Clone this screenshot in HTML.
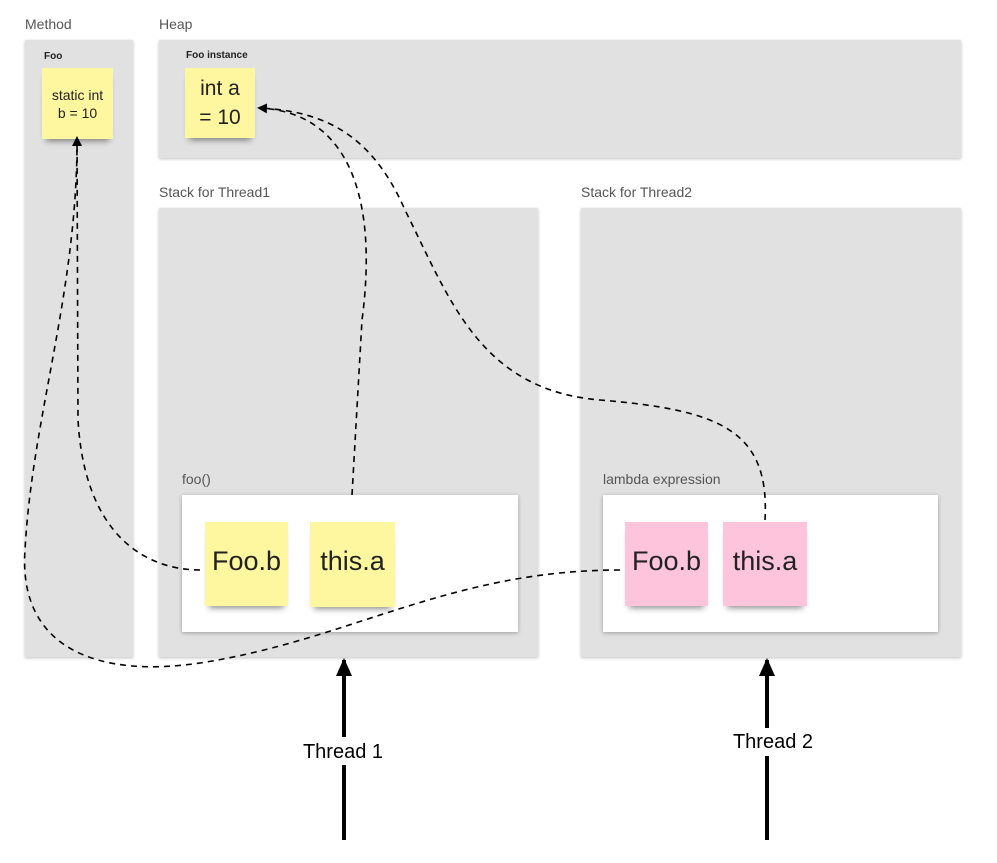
<!DOCTYPE html>
<html><head><meta charset="utf-8"><style>
html,body{margin:0;padding:0;background:#fff;}
body{width:997px;height:863px;position:relative;overflow:hidden;font-family:"Liberation Sans","DejaVu Sans",sans-serif;}
.box{position:absolute;background:#e1e1e1;box-shadow:0 1px 3px rgba(0,0,0,.25);}
.white{position:absolute;background:#fff;box-shadow:0 1px 4px rgba(0,0,0,.3);}
.lbl{position:absolute;font-size:14px;color:#555;}
.b{position:absolute;font-size:10px;font-weight:bold;color:#222;}
.note{position:absolute;display:flex;align-items:center;justify-content:center;text-align:center;color:#222;box-shadow:0 6px 6px -4px rgba(0,0,0,.45);}
.y{background:#fff7a0;}
.p{background:#fdc4db;}
</style></head><body>
<div class="lbl" style="left:25px;top:16px">Method</div>
<div class="lbl" style="left:159px;top:16px">Heap</div>
<div class="lbl" style="left:159px;top:184px">Stack for Thread1</div>
<div class="lbl" style="left:581px;top:184px">Stack for Thread2</div>
<div class="box" style="left:25px;top:40px;width:108px;height:617px"></div>
<div class="box" style="left:159px;top:40px;width:802px;height:118px"></div>
<div class="box" style="left:159px;top:208px;width:379px;height:449px"></div>
<div class="box" style="left:581px;top:208px;width:380px;height:449px"></div>
<div class="b" style="left:44px;top:51px">Foo</div>
<div class="b" style="left:186px;top:50px">Foo instance</div>
<div class="note y" style="left:42px;top:68px;width:71px;height:71px;font-size:14px;line-height:18px">static int<br>b = 10</div>
<div class="note y" style="left:185px;top:68px;width:70px;height:70px;font-size:21px;line-height:29px">int a<br>= 10</div>
<div class="lbl" style="left:182px;top:471px">foo()</div>
<div class="lbl" style="left:603px;top:471px">lambda expression</div>
<div class="white" style="left:182px;top:495px;width:336px;height:137px"></div>
<div class="white" style="left:603px;top:495px;width:335px;height:137px"></div>
<div class="note y" style="left:205px;top:522px;width:83px;height:84px;font-size:27px;padding-bottom:6px;box-sizing:border-box">Foo.b</div>
<div class="note y" style="left:310px;top:522px;width:85px;height:85px;font-size:27px;padding-bottom:6px;box-sizing:border-box">this.a</div>
<div class="note p" style="left:625px;top:522px;width:83px;height:84px;font-size:27px;padding-bottom:6px;box-sizing:border-box">Foo.b</div>
<div class="note p" style="left:723px;top:522px;width:84px;height:84px;font-size:27px;padding-bottom:6px;box-sizing:border-box">this.a</div>
<svg width="997" height="863" style="position:absolute;left:0;top:0">
<defs><marker id="a" markerWidth="10" markerHeight="10" refX="8" refY="5" orient="auto" markerUnits="userSpaceOnUse"><path d="M0,0 L10,5 L0,10 Z" fill="#000"/></marker>
<marker id="t" markerWidth="22" markerHeight="22" refX="16" refY="11" orient="auto" markerUnits="userSpaceOnUse"><path d="M0,3 L18,11 L0,19 Z" fill="#000"/></marker></defs>
<g fill="none" stroke="#000" stroke-width="1.6" stroke-dasharray="6,5">
<path d="M200,570 C150,570 85,540 78,420 L77,138" marker-end="url(#a)"/>
<path d="M352,495 L362,320 C378,200 350,112 259,108" marker-end="url(#a)"/>
<path d="M765,520 C770,430 720,410 600,400 C480,390 450,300 405,210 C370,130 320,112 262,108"/>
<path d="M620,570 C450,570 350,640 200,663 C100,678 18,650 25,550 C32,420 75,300 77,150"/>
</g>
<g stroke="#000" stroke-width="4">
<line x1="344" y1="840" x2="344" y2="660" marker-end="url(#t)"/>
<line x1="767" y1="840" x2="767" y2="660" marker-end="url(#t)"/>
</g>
<rect x="300" y="737" width="88" height="28" fill="#fff"/>
<rect x="728" y="728" width="90" height="28" fill="#fff"/>
<text x="343" y="758" font-size="20" text-anchor="middle" font-family="Liberation Sans, sans-serif">Thread 1</text>
<text x="773" y="748" font-size="20" text-anchor="middle" font-family="Liberation Sans, sans-serif">Thread 2</text>
</svg>
</body></html>
